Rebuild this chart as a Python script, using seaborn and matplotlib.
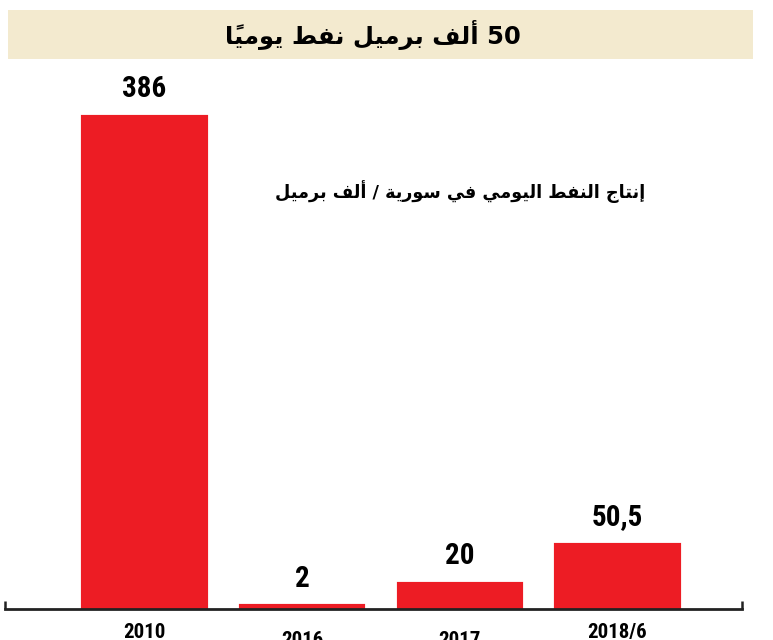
import matplotlib
matplotlib.use("Agg")
import matplotlib.pyplot as plt
import seaborn as sns

years = ['2010', '2016', '2017', '2018/6']
production = [386, 2, 20, 50.5]
title_text = "50 ألف برميل نفط يومياً"
subtitle_text = "إنتاج النفط اليومي في سورية / ألف برميل"

RED = '#ED1C24'
BEIGE = '#F3EACF'

# matplotlib has no Arabic shaping, so map letters to presentation forms by hand
# (isolated, final, initial, medial)
FORMS = {
    '\u0627': ('\uFE8D', '\uFE8E', None, None),
    '\u0623': ('\uFE83', '\uFE84', None, None),
    '\u0625': ('\uFE87', '\uFE88', None, None),
    '\u0628': ('\uFE8F', '\uFE90', '\uFE91', '\uFE92'),
    '\u0629': ('\uFE93', '\uFE94', None, None),
    '\u062A': ('\uFE95', '\uFE96', '\uFE97', '\uFE98'),
    '\u062C': ('\uFE9D', '\uFE9E', '\uFE9F', '\uFEA0'),
    '\u0631': ('\uFEAD', '\uFEAE', None, None),
    '\u0633': ('\uFEB1', '\uFEB2', '\uFEB3', '\uFEB4'),
    '\u0637': ('\uFEC1', '\uFEC2', '\uFEC3', '\uFEC4'),
    '\u0641': ('\uFED1', '\uFED2', '\uFED3', '\uFED4'),
    '\u0644': ('\uFEDD', '\uFEDE', '\uFEDF', '\uFEE0'),
    '\u0645': ('\uFEE1', '\uFEE2', '\uFEE3', '\uFEE4'),
    '\u0646': ('\uFEE5', '\uFEE6', '\uFEE7', '\uFEE8'),
    '\u0648': ('\uFEED', '\uFEEE', None, None),
    '\u064A': ('\uFEF1', '\uFEF2', '\uFEF3', '\uFEF4'),
}
MARKS = {'\u064B', '\u064C', '\u064D', '\u064E', '\u064F', '\u0650', '\u0651', '\u0652'}


def shape_word(word):
    chars = list(word)
    letters = [i for i, c in enumerate(chars) if c not in MARKS]
    shaped = list(chars)
    for k, i in enumerate(letters):
        c = chars[i]
        if c not in FORMS:
            continue
        prev = chars[letters[k - 1]] if k > 0 else None
        nxt = chars[letters[k + 1]] if k + 1 < len(letters) else None
        join_prev = prev in FORMS and FORMS[prev][2] is not None
        join_next = nxt in FORMS and FORMS[c][2] is not None
        iso, fin, ini, med = FORMS[c]
        if join_prev and join_next:
            shaped[i] = med
        elif join_prev:
            shaped[i] = fin
        elif join_next:
            shaped[i] = ini
        else:
            shaped[i] = iso
    # group base + marks, then reverse for left-to-right drawing
    clusters = []
    for c, s in zip(chars, shaped):
        if c in MARKS and clusters:
            clusters[-1] += s
        else:
            clusters.append(s)
    return ''.join(reversed(clusters))


def rtl(text):
    out = []
    for w in reversed(text.split(' ')):
        if any('\u0600' <= c <= '\u06FF' for c in w):
            out.append(shape_word(w))
        else:
            out.append(w)
    return ' '.join(out)


sns.set_style('white')
plt.rcParams['font.family'] = ['Roboto Condensed', 'Open Sans Condensed', 'Liberation Sans Narrow',
                               'DejaVu Sans Condensed', 'DejaVu Sans']
plt.rcParams['text.color'] = 'black'
plt.rcParams['xtick.color'] = 'black'
AR_FONT = ['DejaVu Sans']

W, H = 773, 640
fig = plt.figure(figsize=(W / 100, H / 100), dpi=100)

# title banner
bax = fig.add_axes([8 / W, 1 - 59 / H, 745 / W, 49 / H])
bax.set_facecolor(BEIGE)
bax.set_xticks([])
bax.set_yticks([])
for s in bax.spines.values():
    s.set_visible(False)
bax.text(0.49, 0.5, rtl(title_text), ha='center', va='center',
         fontsize=17.5, fontweight='heavy', family=AR_FONT, transform=bax.transAxes)

# bars
ax = fig.add_axes([5 / W, 31 / H, 737 / W, 544 / H])
sns.barplot(x=years, y=production, color=RED, saturation=1, width=0.775,
            edgecolor=RED, linewidth=3, ax=ax)
ax.set_xlim(-0.885, 3.79)
ax.set_ylim(0, 426.8)
ax.set_yticks([])
ax.set_ylabel('')
for s in ['top', 'right', 'left']:
    ax.spines[s].set_visible(False)
ax.spines['bottom'].set_linewidth(2)
ax.spines['bottom'].set_color('#222222')
ax.spines['bottom'].set_zorder(5)

ax.tick_params(axis='x', which='major', length=0, labelsize=15)
for t in ax.get_xticklabels():
    t.set_fontweight('bold')
pads = [10, 16, 16, 10]
for tick, p in zip(ax.xaxis.get_major_ticks(), pads):
    tick.set_pad(p)
ax.set_xticks([-0.885, 3.79], minor=True)
ax.tick_params(axis='x', which='minor', bottom=True, direction='in', length=6,
               width=1.8, color='#222222')

for i, v in enumerate(production):
    lbl = f'{v:g}'.replace('.', ',')
    ax.annotate(lbl, (i, v), xytext=(0, 10), textcoords='offset points',
                ha='center', va='bottom', fontsize=21, fontweight='bold')

fig.text(460 / W, 1 - 192 / H, rtl(subtitle_text), ha='center', va='center',
         fontsize=12.7, fontweight='bold', family=AR_FONT)

fig.savefig('out.png', dpi=100)
